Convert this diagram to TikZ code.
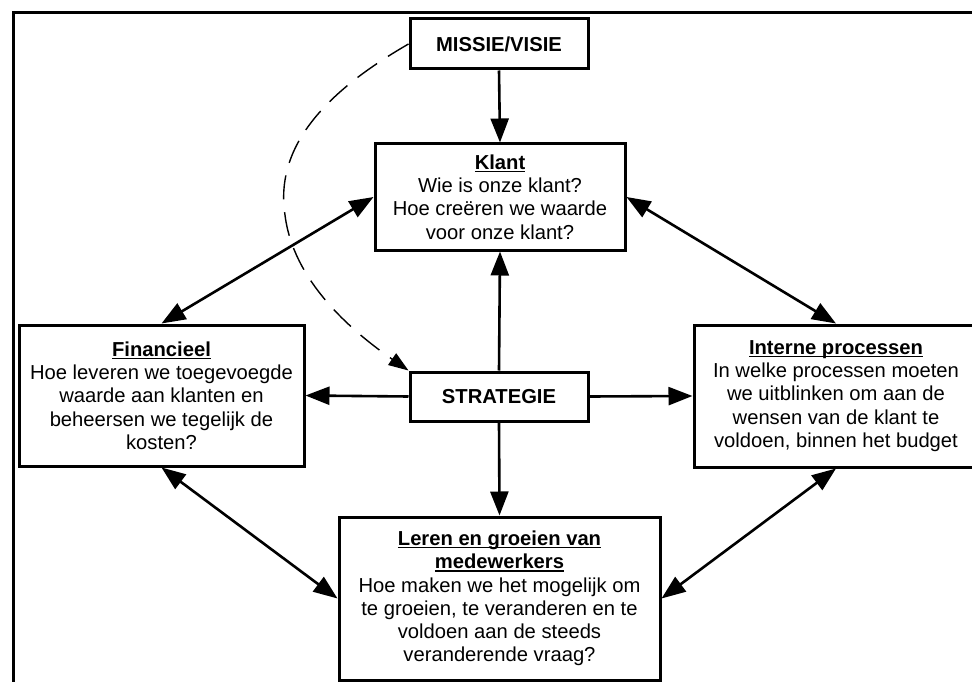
\documentclass[tikz,border=0pt]{standalone}
\usepackage{fontspec}
\setmainfont{Liberation Sans}
\usetikzlibrary{arrows.meta}
\tikzset{
  box/.style={draw, line width=3pt, rectangle, inner sep=0pt, align=center,
    font=\fontsize{20.2}{23.3}\selectfont},
  tipA/.tip={Triangle[length=24pt,width=18pt]},
  link/.style={line width=2.6pt, -tipA},
  both/.style={line width=2.6pt, tipA-tipA},
  dashlink/.style={line width=1.4pt, dash pattern=on 24pt off 13pt, -{Triangle[length=20pt,width=14pt]}}
}
\newsavebox{\ttlbox}
\newcommand{\ttl}[1]{\sbox{\ttlbox}{\textbf{#1}}\rlap{\rule[-3pt]{\wd\ttlbox}{1.6pt}}\usebox{\ttlbox}}
\begin{document}
\begin{tikzpicture}[x=1pt,y=-1pt]
\path[use as bounding box, clip] (0,0) rectangle (972,682);
\fill[white] (0,0) rectangle (972,682);
% outer frame (only left and top visible)
\coordinate (fbl) at (13,690);
\coordinate (ftl) at (13,13);
\coordinate (ftr) at (980,13);
\draw[line width=3pt] (fbl) -- (ftl) -- (ftr);

\node[box, minimum width=178pt, minimum height=50pt] (mis) at (499,44) {\textbf{MISSIE/VISIE}};
\node[box, minimum width=250pt, minimum height=106pt] (kla) at (500,197)
  {\ttl{Klant}\\Wie is onze klant?\\Hoe creëren we waarde\\voor onze klant?};
\node[box, minimum width=178pt, minimum height=49pt] (str) at (499,396.5) {\textbf{STRATEGIE}};
\node[box, minimum width=285pt, minimum height=141pt] (fin) at (161.5,395.5)
  {\ttl{Financieel}\\Hoe leveren we toegevoegde\\waarde aan klanten en\\beheersen we tegelijk de\\kosten?};
\node[box, minimum width=284pt, minimum height=142pt] (int) at (836,396)
  {\ttl{Interne processen}\\In welke processen moeten\\we uitblinken om aan de\\wensen van de klant te\\voldoen, binnen het budget};
\node[box, minimum width=321pt, minimum height=163pt] (ler) at (499.5,598.5)
  {\ttl{Leren en groeien van}\\\ttl{medewerkers}\\Hoe maken we het mogelijk om\\te groeien, te veranderen en te\\voldoen aan de steeds\\veranderende vraag?};

\draw[link] (mis.south) -- (kla.north);
\draw[link] (str.north) -- (kla.south);
\draw[link] (str.west) -- (fin.east);
\draw[link] (str.east) -- (int.west);
\draw[link] (str.south) -- (ler.north);
\draw[both] (fin.north) -- (kla.west);
\draw[both] (kla.east) -- (int.north);
\draw[both] (fin.south) -- (ler.west);
\draw[both] (int.south) -- (ler.east);

\draw[dashlink] (mis.west) .. controls (320,95) and (275,150) .. (285,215)
  .. controls (293,280) and (350,330) .. (str.north west);
\end{tikzpicture}
\end{document}
